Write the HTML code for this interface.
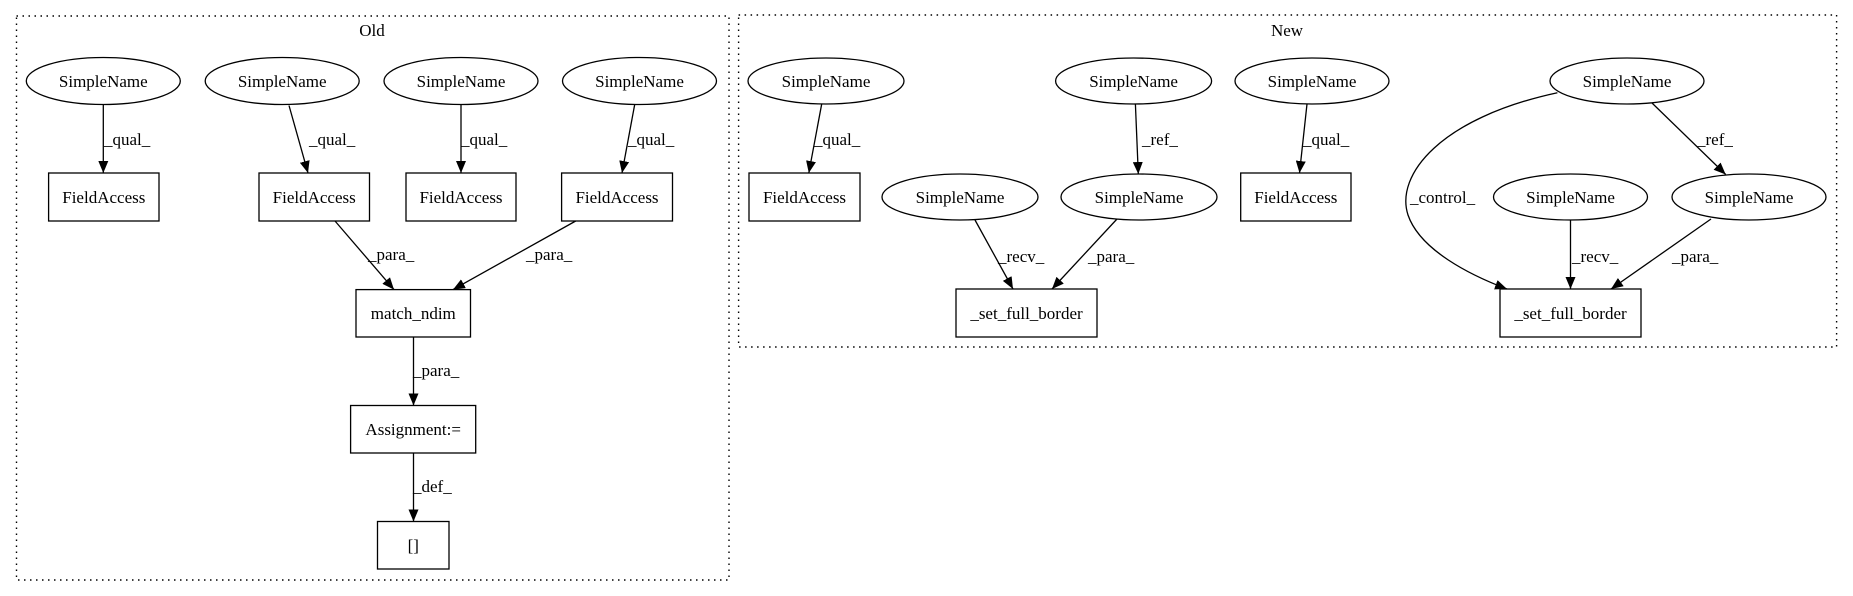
<!DOCTYPE html>
<html><head><meta charset="utf-8"><style>
html,body{margin:0;padding:0;background:#fff;}
svg{display:block;}
text{font-family:"Liberation Serif",serif;font-size:17px;fill:#000;}
</style></head><body>
<svg width="1853" height="596" viewBox="0 0 1853 596" xmlns="http://www.w3.org/2000/svg">
<defs>
<marker id="a" viewBox="0 0 12 10" refX="12" refY="5" markerWidth="12" markerHeight="10" markerUnits="userSpaceOnUse" orient="auto">
<path d="M0,0 L12,5 L0,10 z" fill="#000"/>
</marker>
</defs>
<g fill="none" stroke="#000" stroke-width="1.4">
<rect x="16.5" y="16" width="712.5" height="564" stroke-dasharray="1.5,4.5"/>
<rect x="738.6" y="15" width="1098" height="332" stroke-dasharray="1.5,4.5"/>
</g>
<text x="372" y="36" text-anchor="middle">Old</text>
<text x="1287" y="36" text-anchor="middle">New</text>

<g fill="#fff" stroke="#000" stroke-width="1.3">
<ellipse cx="103.3" cy="81" rx="77" ry="23.5"/>
<ellipse cx="282.2" cy="81" rx="77" ry="23.5"/>
<ellipse cx="461" cy="81" rx="77" ry="23.5"/>
<ellipse cx="639.5" cy="81" rx="77" ry="23.5"/>
<rect x="48.6" y="173" width="110.4" height="48"/>
<rect x="259" y="173" width="110.5" height="48"/>
<rect x="406" y="173" width="110" height="48"/>
<rect x="561.6" y="173" width="110.9" height="48"/>
<rect x="356" y="289.6" width="114.5" height="47.4"/>
<rect x="350.6" y="405.5" width="125.1" height="47.5"/>
<rect x="377.5" y="521.5" width="71.5" height="47.5"/>
<ellipse cx="826" cy="81" rx="78" ry="23"/>
<ellipse cx="1133.6" cy="81" rx="78" ry="23"/>
<ellipse cx="1312" cy="81" rx="77" ry="23"/>
<ellipse cx="1627" cy="81" rx="77" ry="23"/>
<ellipse cx="960" cy="197" rx="78" ry="23"/>
<ellipse cx="1139" cy="197" rx="78" ry="23"/>
<ellipse cx="1570.5" cy="197" rx="77" ry="23"/>
<ellipse cx="1749" cy="197" rx="77" ry="23"/>
<rect x="749" y="173" width="111" height="48"/>
<rect x="1240.7" y="173" width="110.3" height="48"/>
<rect x="956" y="289" width="141" height="48"/>
<rect x="1500" y="289" width="141" height="48"/>
</g>

<g text-anchor="middle">
<text x="103.3" y="87">SimpleName</text>
<text x="282.2" y="87">SimpleName</text>
<text x="461" y="87">SimpleName</text>
<text x="639.5" y="87">SimpleName</text>
<text x="103.8" y="203">FieldAccess</text>
<text x="314.2" y="203">FieldAccess</text>
<text x="461" y="203">FieldAccess</text>
<text x="617" y="203">FieldAccess</text>
<text x="413.3" y="319">match_ndim</text>
<text x="413.2" y="435">Assignment:=</text>
<text x="413.3" y="551">[]</text>
<text x="826" y="87">SimpleName</text>
<text x="1133.6" y="87">SimpleName</text>
<text x="1312" y="87">SimpleName</text>
<text x="1627" y="87">SimpleName</text>
<text x="960" y="203">SimpleName</text>
<text x="1139" y="203">SimpleName</text>
<text x="1570.5" y="203">SimpleName</text>
<text x="1749" y="203">SimpleName</text>
<text x="804.5" y="203">FieldAccess</text>
<text x="1295.8" y="203">FieldAccess</text>
<text x="1026.5" y="319">_set_full_border</text>
<text x="1570.5" y="319">_set_full_border</text>
</g>

<g fill="none" stroke="#000" stroke-width="1.3" marker-end="url(#a)">
<path d="M103.3,104.5 L103.3,173"/>
<path d="M289,105.5 L308,173"/>
<path d="M461,104.5 L461,173"/>
<path d="M634.7,104.5 L622,173"/>
<path d="M335,221 L394,289.6"/>
<path d="M575.7,221 L453,289.6"/>
<path d="M413.5,337 L413.5,405.5"/>
<path d="M413.5,453 L413.5,521.5"/>
<path d="M821.7,104 L808.8,173"/>
<path d="M1135.4,104 L1138.3,174"/>
<path d="M1307,104 L1299.5,173"/>
<path d="M1652,103 L1725.7,174.5"/>
<path d="M1557.4,92.7 C1440,118 1395,175 1408,215 C1420,250 1470,275 1507,289"/>
<path d="M1570.5,220 L1570.5,289"/>
<path d="M1711,219 L1611,289"/>
<path d="M975,220 L1013,289"/>
<path d="M1117,219 L1052,289"/>
</g>

<g text-anchor="start">
<text x="104" y="145">_qual_</text>
<text x="309" y="145">_qual_</text>
<text x="461" y="145">_qual_</text>
<text x="628" y="145">_qual_</text>
<text x="368" y="260">_para_</text>
<text x="526" y="260">_para_</text>
<text x="413" y="376">_para_</text>
<text x="413" y="492">_def_</text>
<text x="814" y="145">_qual_</text>
<text x="1142" y="145">_ref_</text>
<text x="1303" y="145">_qual_</text>
<text x="1697" y="145">_ref_</text>
<text x="1410" y="203">_control_</text>
<text x="1572" y="262">_recv_</text>
<text x="1672" y="262">_para_</text>
<text x="998" y="262">_recv_</text>
<text x="1088" y="262">_para_</text>
</g>
</svg>
</body></html>
